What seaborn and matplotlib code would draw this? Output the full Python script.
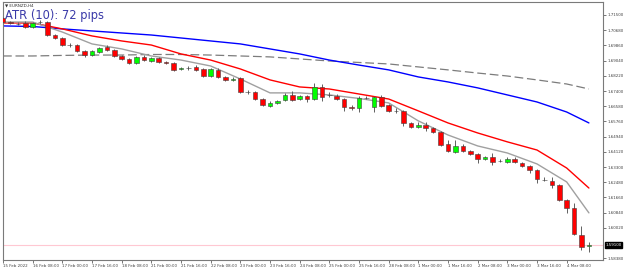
import matplotlib
matplotlib.use("Agg")
import matplotlib.pyplot as plt
import matplotlib.transforms as mtransforms
import seaborn as sns
import numpy as np
import pandas as pd

sns.set_theme(style="white")
plt.rcParams['font.family'] = ['DejaVu Sans']

# EURNZD H4 candles
opens = [1.7134, 1.7112, 1.7104, 1.7107, 1.7085, 1.7110, 1.7112, 1.7042, 1.7026, 1.6988,
         1.6988, 1.6956, 1.6934, 1.6951, 1.6978, 1.6961, 1.6929, 1.6913, 1.6891, 1.6924,
         1.6902, 1.6918, 1.6897, 1.6891, 1.6859, 1.6864, 1.6870, 1.6859, 1.6821, 1.6854,
         1.6816, 1.6802, 1.6810, 1.6735, 1.6735, 1.6697, 1.6660, 1.6676, 1.6692, 1.6719,
         1.6697, 1.6713, 1.6697, 1.6762, 1.6717, 1.6713, 1.6697, 1.6654, 1.6649, 1.6703,
         1.6654, 1.6708, 1.6665, 1.6633, 1.6633, 1.6568, 1.6546, 1.6557, 1.6541, 1.6519,
         1.6455, 1.6412, 1.6444, 1.6417, 1.6401, 1.6374, 1.6385, 1.6362, 1.6358, 1.6374,
         1.6352, 1.6336, 1.6315, 1.6263, 1.6255, 1.6234, 1.6153, 1.6110, 1.5964, 1.5905]
highs = [1.7140, 1.7120, 1.7112, 1.7115, 1.7112, 1.7125, 1.7118, 1.7050, 1.7032, 1.6998,
         1.6994, 1.6962, 1.6962, 1.6980, 1.6986, 1.6967, 1.6936, 1.6918, 1.6930, 1.6932,
         1.6925, 1.6926, 1.6904, 1.6897, 1.6872, 1.6875, 1.6880, 1.6865, 1.6866, 1.6862,
         1.6822, 1.6815, 1.6816, 1.6745, 1.6742, 1.6703, 1.6684, 1.6694, 1.6728, 1.6740,
         1.6720, 1.6720, 1.6783, 1.6780, 1.6735, 1.6722, 1.6705, 1.6662, 1.6712, 1.6712,
         1.6715, 1.6716, 1.6672, 1.6650, 1.6640, 1.6574, 1.6572, 1.6575, 1.6548, 1.6525,
         1.6476, 1.6476, 1.6452, 1.6424, 1.6408, 1.6392, 1.6406, 1.6372, 1.6382, 1.6382,
         1.6360, 1.6342, 1.6322, 1.6275, 1.6275, 1.6240, 1.6160, 1.6135, 1.6010, 1.5927]
lows = [1.7105, 1.7100, 1.7094, 1.7078, 1.7080, 1.7100, 1.7036, 1.7020, 1.6983, 1.6980,
        1.6950, 1.6926, 1.6928, 1.6945, 1.6955, 1.6922, 1.6906, 1.6884, 1.6886, 1.6900,
        1.6896, 1.6890, 1.6884, 1.6846, 1.6852, 1.6856, 1.6848, 1.6815, 1.6815, 1.6808,
        1.6794, 1.6795, 1.6728, 1.6726, 1.6690, 1.6658, 1.6652, 1.6670, 1.6686, 1.6686,
        1.6690, 1.6680, 1.6690, 1.6688, 1.6708, 1.6690, 1.6630, 1.6640, 1.6625, 1.6696,
        1.6627, 1.6652, 1.6627, 1.6620, 1.6552, 1.6540, 1.6540, 1.6525, 1.6512, 1.6443,
        1.6410, 1.6405, 1.6410, 1.6394, 1.6352, 1.6368, 1.6342, 1.6355, 1.6352, 1.6350,
        1.6330, 1.6300, 1.6245, 1.6255, 1.6215, 1.6146, 1.6080, 1.5964, 1.5885, 1.5872]
closes = [1.7112, 1.7107, 1.7102, 1.7085, 1.7107, 1.7112, 1.7042, 1.7026, 1.6988, 1.6986,
          1.6956, 1.6934, 1.6956, 1.6972, 1.6961, 1.6929, 1.6913, 1.6891, 1.6924, 1.6907,
          1.6918, 1.6897, 1.6891, 1.6854, 1.6864, 1.6862, 1.6854, 1.6821, 1.6859, 1.6816,
          1.6800, 1.6806, 1.6735, 1.6733, 1.6697, 1.6665, 1.6676, 1.6686, 1.6719, 1.6692,
          1.6713, 1.6697, 1.6762, 1.6708, 1.6721, 1.6697, 1.6654, 1.6649, 1.6703, 1.6705,
          1.6708, 1.6660, 1.6633, 1.6631, 1.6568, 1.6546, 1.6557, 1.6541, 1.6519, 1.6449,
          1.6417, 1.6444, 1.6417, 1.6401, 1.6374, 1.6385, 1.6358, 1.6364, 1.6374, 1.6358,
          1.6336, 1.6315, 1.6266, 1.6260, 1.6234, 1.6153, 1.6110, 1.5970, 1.5899, 1.5910]

# moving averages, read at every 4th bar
ma_idx = [0, 4, 8, 12, 16, 20, 24, 28, 32, 36, 40, 44, 48, 52, 56, 60, 64, 68, 72, 76, 79]
ma_fast = [1.7112, 1.7112, 1.7058, 1.6994, 1.6967, 1.6929, 1.6907, 1.6875, 1.6805, 1.6730,
           1.6730, 1.6719, 1.6700, 1.6676, 1.6579, 1.6503, 1.6444, 1.6406, 1.6347, 1.6250, 1.6083]
ma_mid = [1.7107, 1.7107, 1.7075, 1.7037, 1.7010, 1.6988, 1.6940, 1.6907, 1.6859, 1.6800,
          1.6762, 1.6751, 1.6724, 1.6697, 1.6633, 1.6568, 1.6514, 1.6466, 1.6422, 1.6325, 1.6217]
ma_slow = [1.7091, 1.7088, 1.7075, 1.7064, 1.7053, 1.7042, 1.7026, 1.7010, 1.6994, 1.6967,
           1.6940, 1.6907, 1.6880, 1.6854, 1.6816, 1.6789, 1.6757, 1.6719, 1.6681, 1.6627, 1.6568]
ma_long = [1.6929, 1.6929, 1.6932, 1.6934, 1.6934, 1.6937, 1.6937, 1.6934, 1.6929, 1.6924,
           1.6913, 1.6902, 1.6894, 1.6886, 1.6870, 1.6854, 1.6837, 1.6821, 1.6800, 1.6778, 1.6751]

x_labels = ["15 Feb 2022", "16 Feb 08:00", "17 Feb 00:00", "17 Feb 16:00", "18 Feb 08:00",
            "21 Feb 00:00", "21 Feb 16:00", "22 Feb 08:00", "23 Feb 00:00", "23 Feb 16:00",
            "24 Feb 08:00", "25 Feb 00:00", "25 Feb 16:00", "28 Feb 08:00", "1 Mar 00:00",
            "1 Mar 16:00", "2 Mar 08:00", "3 Mar 00:00", "3 Mar 16:00", "4 Mar 08:00"]
# the 1.59200 level is hidden under the price box in the terminal
y_labels = ["1.71500", "1.70680", "1.69860", "1.69040", "1.68220", "1.67400", "1.66580",
            "1.65760", "1.64940", "1.64120", "1.63300", "1.62480", "1.61660", "1.60840",
            "1.60020", "1.58380"]

df = pd.DataFrame({"o": opens, "h": highs, "l": lows, "c": closes})
df["i"] = np.arange(len(df))
up = df.c >= df.o

fig = plt.figure(figsize=(6.25, 2.7), dpi=100)
ax = fig.add_axes([3 / 625, 10 / 270, 600 / 625, 258 / 270])

# bid line
ax.axhline(closes[-1], color="#ffc8d2", lw=0.8, zorder=1)

# moving averages
sns.lineplot(x=ma_idx, y=ma_long, color="#7c7c7c", lw=0.9, ax=ax, zorder=2)
ax.lines[-1].set_dashes([7, 3])
sns.lineplot(x=ma_idx, y=ma_slow, color="#0000ff", lw=1.0, ax=ax, zorder=2)
sns.lineplot(x=ma_idx, y=ma_mid, color="#ff0000", lw=1.0, ax=ax, zorder=2)
sns.lineplot(x=ma_idx, y=ma_fast, color="#a0a0a0", lw=1.0, ax=ax, zorder=2)

# candles
ax.vlines(df.i, df.l, df.h, color="#606060", lw=0.7, zorder=3)
body_lo = np.minimum(df.o, df.c)
body_h = np.maximum(np.abs(df.c - df.o), 0.00012)
ax.bar(df.i, body_h, bottom=body_lo, width=0.62,
       color=np.where(up, "#00ff00", "#ff0000"), edgecolor="#404040",
       linewidth=0.4, zorder=4)

ax.set_xlim(0.1, 80.9)
ax.set_ylim(1.5829, 1.7220)

ax.yaxis.tick_right()
ax.set_yticks([float(v) for v in y_labels])
ax.set_yticklabels(y_labels)
ax.set_xticks(range(0, 4 * len(x_labels), 4))
ax.set_xticklabels(x_labels, ha="left")
ax.tick_params(axis="both", labelsize=2.9, colors="#404040", length=2.0, width=0.5, pad=1.2)
ax.tick_params(axis="y", right=True, left=False)
ax.tick_params(axis="x", bottom=True)
for s in ax.spines.values():
    s.set_color("#7a7a7a")
    s.set_linewidth(0.8)
ax.grid(False)

ax.text(0.003, 0.947, "ATR (10): 72 pips", transform=ax.transAxes, color="#3a3aa8",
        fontsize=8.3, va="center", ha="left", zorder=6)
ax.text(0.004, 0.988, "\u25bc EURNZD,H4", transform=ax.transAxes, color="#303030",
        fontsize=3.0, va="center", ha="left", zorder=6)

trans = mtransforms.blended_transform_factory(ax.transAxes, ax.transData)
ax.text(1.004, closes[-1], f"{closes[-1]:.5f}", transform=trans, color="white",
        fontsize=2.9, va="center", ha="left", zorder=7,
        bbox=dict(boxstyle="square,pad=0.2", fc="black", ec="black"))

fig.savefig("out.png", dpi=100, facecolor="white")
